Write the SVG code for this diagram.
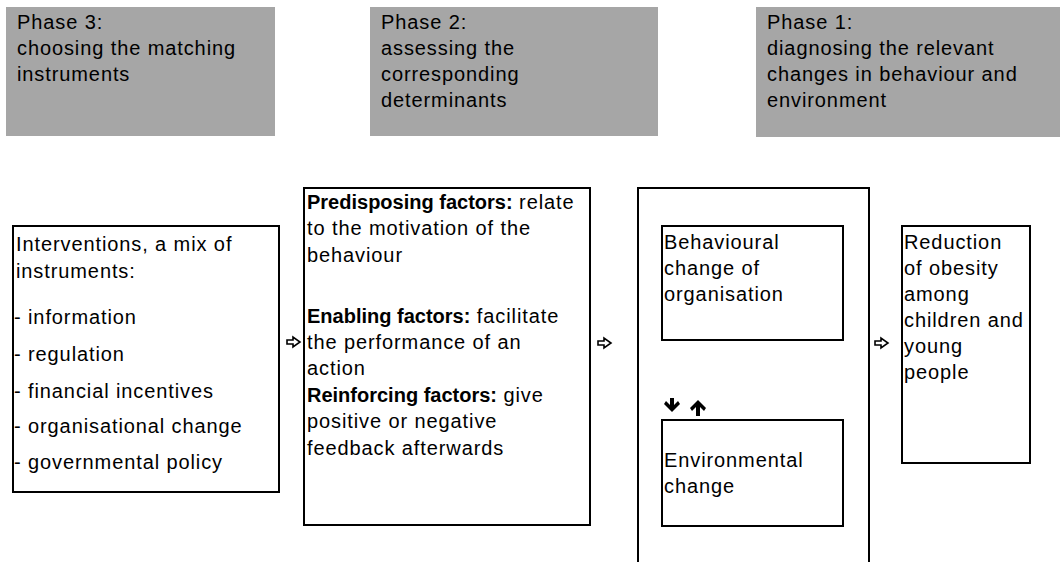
<svg xmlns="http://www.w3.org/2000/svg" width="1060" height="562" viewBox="0 0 1060 562">
<style>
.t{font-family:"Liberation Sans",Arial,sans-serif;font-size:20px;letter-spacing:0.9px;fill:#000}
.b{font-weight:bold;letter-spacing:0px}
.phase{fill:#a6a6a6;stroke:none}
.box{fill:#fff;stroke:#000;stroke-width:2}
.line{fill:none;stroke:#000;stroke-width:2}
.harrow{fill:#fff;stroke:#000;stroke-width:1.6;stroke-linejoin:miter}
.barrow{fill:#000;stroke:none}
</style>
<rect width="1060" height="562" fill="#fff"/>
<g id="phase3">
<rect class="phase" x="6" y="7" width="269" height="129"/>
<text class="t" x="17" y="29">Phase 3:</text>
<text class="t" x="17" y="55">choosing the matching</text>
<text class="t" x="17" y="81">instruments</text>
</g>
<g id="phase2">
<rect class="phase" x="370" y="7" width="288" height="129"/>
<text class="t" x="381" y="29">Phase 2:</text>
<text class="t" x="381" y="55">assessing the</text>
<text class="t" x="381" y="81">corresponding</text>
<text class="t" x="381" y="107">determinants</text>
</g>
<g id="phase1">
<rect class="phase" x="756" y="7" width="304" height="130"/>
<text class="t" x="767" y="29">Phase 1:</text>
<text class="t" x="767" y="55">diagnosing the relevant</text>
<text class="t" x="767" y="81">changes in behaviour and</text>
<text class="t" x="767" y="107">environment</text>
</g>
<g id="interventions">
<rect class="box" x="13" y="226" width="266" height="266"/>
<text class="t" x="16" y="251">Interventions, a mix of</text>
<text class="t" x="16" y="278">instruments:</text>
<text class="t" x="14" y="324">- information</text>
<text class="t" x="14" y="361">- regulation</text>
<text class="t" x="14" y="398">- financial incentives</text>
<text class="t" x="14" y="433">- organisational  change</text>
<text class="t" x="14" y="469">- governmental policy</text>
</g>
<g id="determinants">
<rect class="box" x="304" y="188" width="286" height="337"/>
<text class="t" x="307" y="209"><tspan class="b">Predisposing factors:</tspan> relate</text>
<text class="t" x="307" y="235">to the motivation of the</text>
<text class="t" x="307" y="262">behaviour</text>
<text class="t" x="307" y="323"><tspan class="b">Enabling factors:</tspan> facilitate</text>
<text class="t" x="307" y="349">the performance of an</text>
<text class="t" x="307" y="375">action</text>
<text class="t" x="307" y="402"><tspan class="b">Reinforcing factors:</tspan> give</text>
<text class="t" x="307" y="428">positive or negative</text>
<text class="t" x="307" y="455">feedback afterwards</text>
</g>
<g id="changes">
<path class="line" d="M638 563 V188 H869 V563"/>
</g>
<g id="behavioural">
<rect class="box" x="662" y="226" width="181" height="114"/>
<text class="t" x="664" y="249">Behavioural</text>
<text class="t" x="664" y="275">change of</text>
<text class="t" x="664" y="301">organisation</text>
</g>
<g id="environmental">
<rect class="box" x="662" y="420" width="181" height="106"/>
<text class="t" x="664" y="467">Environmental</text>
<text class="t" x="664" y="493">change</text>
</g>
<g id="reduction">
<rect class="box" x="902" y="226" width="128" height="237"/>
<text class="t" x="904" y="249">Reduction</text>
<text class="t" x="904" y="275">of obesity</text>
<text class="t" x="904" y="301">among</text>
<text class="t" x="904" y="327">children and</text>
<text class="t" x="904" y="353">young</text>
<text class="t" x="904" y="379">people</text>
</g>
<g id="connectors">
<polygon class="harrow" points="287,340 293,340 293,337 300,342 293,347 293,344 287,344"/>
<polygon class="harrow" points="598,341 604,341 604,338 611,343 604,348 604,345 598,345"/>
<polygon class="harrow" points="875,341 881,341 881,338 888,343 881,348 881,345 875,345"/>
<polygon class="barrow" points="670,398 674,398 674,405 678,401 680,404 672,412 664,404 666,401 670,405"/>
<polygon class="barrow" points="698,400 706,408 704,411 700,407 700,416 696,416 696,407 692,411 690,408"/>
</g>
</svg>
